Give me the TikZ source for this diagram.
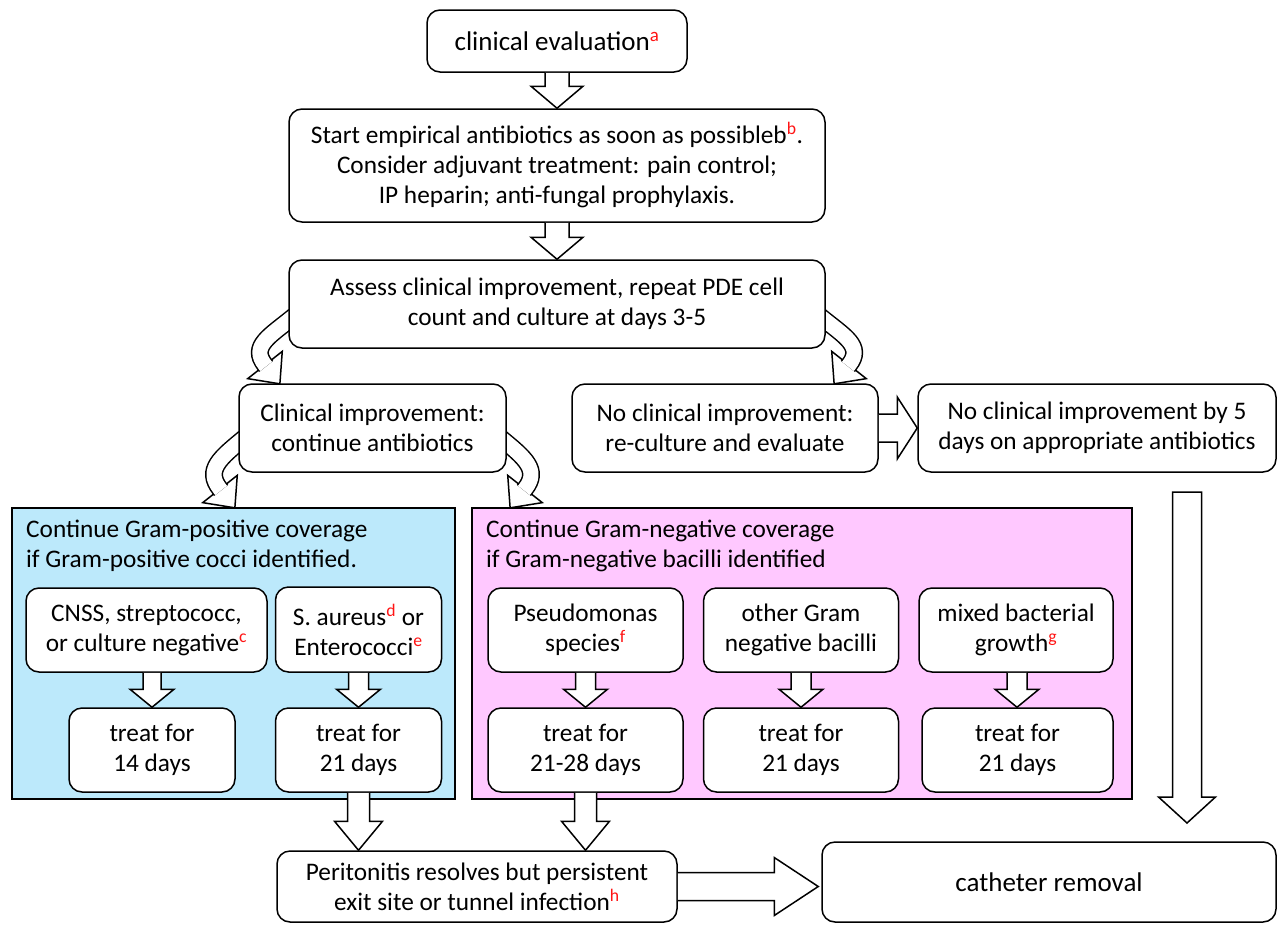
\documentclass[tikz,border=0pt]{standalone}
\usepackage{fontspec}
\setmainfont{Carlito}
\usetikzlibrary{calc}
\definecolor{gpos}{RGB}{188,233,251}
\definecolor{gneg}{RGB}{255,200,255}
\definecolor{supr}{RGB}{255,20,20}
\newcommand\supred[1]{\textsuperscript{\textcolor{supr}{#1}}}
\pgfdeclarelayer{background}
\pgfsetlayers{background,main}
\tikzset{
  box/.style={draw, line width=1.5pt, rounded corners=13pt, fill=white, align=center, inner sep=0pt},
  group/.style={draw, line width=1.5pt, inner sep=0pt},
  blk/.style={draw, line width=1.5pt, fill=white, line join=miter},
  heading/.style={align=left, inner sep=0pt, anchor=north west},
  big/.style={font=\fontsize{27}{32}\selectfont}
}
% straight block arrows: #1 start, #2 tip, #3 shaft half width, #4 head half width, #5 head length
\newcommand\vblk[5]{\filldraw[blk] let \p1=#1, \p2=#2 in
  (\x1-#3pt,\y1) -- (\x1-#3pt,\y2+#5pt) -- (\x1-#4pt,\y2+#5pt) -- (\x1,\y2)
  -- (\x1+#4pt,\y2+#5pt) -- (\x1+#3pt,\y2+#5pt) -- (\x1+#3pt,\y1);}
\newcommand\vblkc[5]{\filldraw[blk] let \p1=#1, \p2=#2 in
  (\x1-#3pt,\y1) -- (\x1-#3pt,\y2+#5pt) -- (\x1-#4pt,\y2+#5pt) -- (\x1,\y2)
  -- (\x1+#4pt,\y2+#5pt) -- (\x1+#3pt,\y2+#5pt) -- (\x1+#3pt,\y1) -- cycle;}
\newcommand\hblk[5]{\filldraw[blk] let \p1=#1, \p2=#2 in
  (\x1,\y1+#3pt) -- (\x2-#5pt,\y1+#3pt) -- (\x2-#5pt,\y1+#4pt) -- (\x2,\y1)
  -- (\x2-#5pt,\y1-#4pt) -- (\x2-#5pt,\y1-#3pt) -- (\x1,\y1-#3pt);}
% curved block arrow: #1 start, #2 c1, #3 c2, #4 head base centre, #5 canvas angle of head
\newcommand\cblk[5]{%
  \filldraw[blk, shift={#4}, rotate=#5] (0,-22) -- (24,0) -- (0,22) -- cycle;
  \draw[line width=1.5pt, double=white, double distance=15pt] #1 .. controls #2 and #3 .. #4 -- ++(#5:1.8pt);}
\begin{document}
\begin{tikzpicture}[x=1pt, y=-1pt, font=\fontsize{25.3}{30}\selectfont]
\useasboundingbox (0,0) rectangle (1277,924);

% group panels
\node[group, fill=gpos, minimum width=443pt, minimum height=291pt] (gp) at (233.5,653.5) {};
\node[group, fill=gneg, minimum width=660pt, minimum height=291pt] (gn) at (802,653.5) {};
\node[heading] (gph) at (26,520) {Continue Gram-positive coverage\\if Gram-positive cocci identified.};
\node[heading] (gnh) at (486,520) {Continue Gram-negative coverage\\if Gram-negative bacilli identified};

% main flow
\node[box, big, minimum width=260pt, minimum height=62pt] (ce) at (557,41) {clinical evaluation\supred{a}};
\node[box, minimum width=536pt, minimum height=113pt] (se) at (557,165.5)
  {Start empirical antibiotics as soon as possibleb\supred{b}.\\Consider adjuvant treatment: pain control;\\IP heparin; anti-fungal prophylaxis.};
\node[box, minimum width=536pt, minimum height=88pt] (as) at (557,304)
  {Assess clinical improvement, repeat PDE cell\\count and culture at days 3-5};
\node[box, minimum width=267pt, minimum height=88pt] (ci) at (372.5,428) {Clinical improvement:\\continue antibiotics};
\node[box, minimum width=306pt, minimum height=88pt] (nci) at (725,428) {No clinical improvement:\\re-culture and evaluate};
\node[box, minimum width=358pt, minimum height=88pt] (nci5) at (1097,428) {No clinical improvement by 5\\days on appropriate antibiotics};

% gram positive
\node[box, minimum width=241pt, minimum height=84pt] (cnss) at (146.5,630) {CNSS, streptococc,\\or culture negative\supred{c}};
\node[box, minimum width=166pt, minimum height=85pt] (sau) at (358.5,629.5) {S. aureus\supred{d} or\\Enterococci\supred{e}};
\node[box, minimum width=166pt, minimum height=84pt] (t14) at (152,750) {treat for\\14 days};
\node[box, minimum width=166pt, minimum height=84pt] (t21a) at (358.5,750) {treat for\\21 days};

% gram negative
\node[box, minimum width=195pt, minimum height=84pt] (pse) at (585.5,630) {Pseudomonas\\species\supred{f}};
\node[box, minimum width=195pt, minimum height=84pt] (oth) at (801,630) {other Gram\\negative bacilli};
\node[box, minimum width=194pt, minimum height=84pt] (mix) at (1016,630) {mixed bacterial\\growth\supred{g}};
\node[box, minimum width=195pt, minimum height=84pt] (t2128) at (585.5,750) {treat for\\21-28 days};
\node[box, minimum width=195pt, minimum height=84pt] (t21b) at (801,750) {treat for\\21 days};
\node[box, minimum width=191pt, minimum height=84pt] (t21c) at (1017.5,750) {treat for\\21 days};

% bottom
\node[box, minimum width=400pt, minimum height=71pt] (per) at (477,886.5) {Peritonitis resolves but persistent\\exit site or tunnel infection\supred{h}};
\node[box, big, minimum width=454pt, minimum height=80pt] (cath) at (1049,882) {catheter removal};

\coordinate (bigtop) at (1187,492);
\coordinate (bigtip) at (1187,823);

% straight block arrows
\vblk{(ce.south)}{(se.north)}{12}{26}{22}
\vblk{(se.south)}{(as.north)}{12}{26}{22}
\vblk{($(cnss.south)+(5.5,0)$)}{(t14.north)}{9}{22}{18}
\vblk{(sau.south)}{(t21a.north)}{10}{22}{18}
\vblk{(pse.south)}{(t2128.north)}{10}{22}{18}
\vblk{(oth.south)}{(t21b.north)}{10}{22}{18}
\vblk{($(mix.south)+(1,0)$)}{(t21c.north)}{10}{22}{18}
\vblk{(t21a.south)}{($(per.north west)!0.2!(per.north east)$)}{11}{24}{29}
\vblk{(t2128.south)}{($(per.north west)!0.2725!(per.north east)$)}{11}{24}{29}
\hblk{(nci.east)}{(nci5.west)}{14}{31}{20}
\hblk{(per.east)}{($(cath.west)+(-3,4.5)$)}{14}{29}{44}
\vblkc{(bigtop)}{(bigtip)}{14.5}{28.5}{26}

% curved block arrows
\begin{pgfonlayer}{background}
\cblk{($(as.west)+(6,12)$)}{(270,336)}{(250,346)}{(265,365)}{-51.7}
\cblk{($(as.east)+(-6,12)$)}{(844,336)}{(864,346)}{(849,365)}{-128.3}
\cblk{($(ci.west)+(6,10)$)}{(220,458)}{(205,470)}{(220,489)}{-51.7}
\cblk{($(ci.east)+(-6,10)$)}{(525,458)}{(540,470)}{(525,489)}{-128.3}
\end{pgfonlayer}
\end{tikzpicture}
\end{document}
